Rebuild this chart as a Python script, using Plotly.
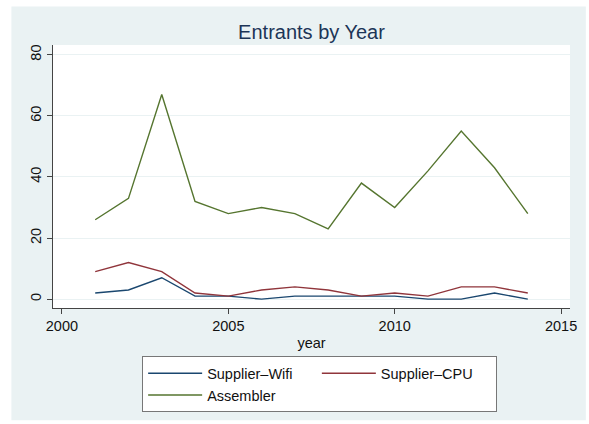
import plotly.graph_objects as go

years = [2001, 2002, 2003, 2004, 2005, 2006, 2007, 2008, 2009, 2010, 2011, 2012, 2013, 2014]
wifi = [2, 3, 7, 1, 1, 0, 1, 1, 1, 1, 0, 0, 2, 0]
cpu = [9, 12, 9, 2, 1, 3, 4, 3, 1, 2, 1, 4, 4, 2]
assembler = [26, 33, 67, 32, 28, 30, 28, 23, 38, 30, 42, 55, 43, 28]

series_names = ["Supplier–Wifi", "Supplier–CPU", "Assembler"]
series_colors = ["#1A476F", "#90353B", "#55752F"]
x_ticks = [2000, 2005, 2010, 2015]
y_ticks = [0, 20, 40, 60, 80]

W, H = 589, 424
L, R, T, B = 53, 14, 45, 112
pw, ph = W - L - R, H - T - B

FONT = "Liberation Sans, Arial, Helvetica, sans-serif"

fig = go.Figure()
for name, vals, col in zip(series_names, [wifi, cpu, assembler], series_colors):
    fig.add_trace(go.Scatter(x=years, y=vals, mode="lines", name=name,
                             line=dict(color=col, width=1.4)))

def px_x(p):
    return (p - L) / pw

def px_y(p):
    return (H - B - p) / ph

fig.update_layout(
    width=W, height=H,
    margin=dict(l=L, r=R, t=T, b=B, pad=0),
    paper_bgcolor="white",
    plot_bgcolor="white",
    font=dict(family=FONT, size=14.5, color="#111"),
    title=dict(text="Entrants by Year", x=0.5, xref="paper", xanchor="center",
               y=1 - 32 / H, yanchor="middle",
               font=dict(size=20, color="#1C3557", family=FONT)),
    shapes=[
        dict(type="rect", xref="paper", yref="paper", layer="below",
             x0=px_x(11), x1=px_x(W + 2), y0=px_y(H + 2), y1=px_y(6),
             fillcolor="#EAF2F3", line=dict(width=0)),
        dict(type="rect", xref="paper", yref="paper", layer="below",
             x0=0, x1=1, y0=0, y1=1,
             fillcolor="white", line=dict(width=0)),
    ],
    xaxis=dict(range=[1999.732, 2015.268], tickvals=x_ticks,
               showgrid=False, zeroline=False,
               showline=True, linecolor="#444", linewidth=1,
               ticks="outside", ticklen=5, tickcolor="#444",
               tickfont=dict(size=14.5, color="#111"),
               title=dict(text="year", standoff=4, font=dict(size=14.5, color="#111"))),
    yaxis=dict(range=[-2.9, 83.2], tickvals=y_ticks,
               showgrid=True, gridcolor="#EAF2F3", gridwidth=1, zeroline=False,
               showline=True, linecolor="#444", linewidth=1,
               ticks="outside", ticklen=5, tickcolor="#444",
               tickangle=-90, tickfont=dict(size=14.5, color="#111")),
    legend=dict(orientation="h", x=px_x(143), xanchor="left",
                y=px_y(361), yanchor="top",
                bgcolor="white", bordercolor="#777", borderwidth=1,
                entrywidthmode="fraction", entrywidth=0.336,
                itemwidth=54, font=dict(size=14.5, color="#111"),
                traceorder="normal"),
    showlegend=True,
)

fig.write_html("out.html")
